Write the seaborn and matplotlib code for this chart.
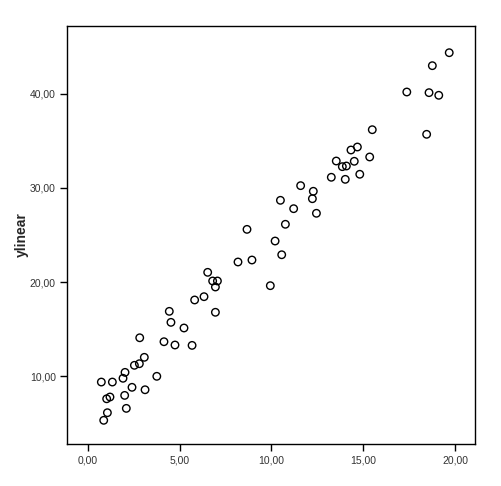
import pandas as pd
import seaborn as sns
import matplotlib.pyplot as plt
from matplotlib.ticker import FuncFormatter

# values
x = [19.68, 18.76, 17.37, 18.58, 19.11, 15.49, 18.45, 14.68, 14.33, 15.35,
     13.53, 14.51, 13.86, 14.08, 14.81, 13.26, 14.02, 11.59, 12.28, 12.23,
     10.49, 11.21, 12.45, 10.76, 8.67, 10.20, 10.56, 8.18, 8.94, 6.53,
     6.80, 7.06, 6.95, 9.94, 6.33, 5.82, 4.44, 6.95, 4.53, 5.24,
     2.83, 4.15, 4.75, 5.68, 3.08, 2.54, 2.81, 2.03, 1.92, 0.74,
     1.34, 3.76, 2.41, 3.12, 1.03, 1.21, 2.01, 2.10, 1.07, 0.87]
ylinear = [44.39, 43.01, 40.21, 40.14, 39.86, 36.20, 35.71, 34.36, 34.04, 33.30,
           32.87, 32.84, 32.27, 32.34, 31.46, 31.14, 30.92, 30.25, 29.65, 28.86,
           28.69, 27.80, 27.31, 26.14, 25.60, 24.36, 22.90, 22.13, 22.34, 21.03,
           20.11, 20.11, 19.47, 19.61, 18.44, 18.09, 16.88, 16.78, 15.71, 15.11,
           14.07, 13.65, 13.30, 13.26, 11.99, 11.14, 11.31, 10.39, 9.76, 9.36,
           9.36, 9.97, 8.80, 8.54, 7.58, 7.77, 7.94, 6.56, 6.10, 5.29]
x_ticks = [0, 5, 10, 15, 20]
y_ticks = [10, 20, 30, 40]

df = pd.DataFrame({"x": x, "ylinear": ylinear})

sns.set_style("white")
plt.rcParams['font.family'] = ['Liberation Sans', 'DejaVu Sans']

fig = plt.figure(figsize=(5.01, 4.86), dpi=100)
ax = fig.add_axes([0.1337, 0.0864, 0.8143, 0.8601])

sns.scatterplot(data=df, x="x", y="ylinear", ax=ax, s=29,
                facecolor="none", edgecolor="black", linewidth=1.0)

ax.set_xlim(-1.13, 21.08)
ax.set_ylim(2.77, 47.23)
ax.set_xticks(x_ticks)
ax.set_yticks(y_ticks)
fmt = FuncFormatter(lambda v, p: f"{v:.2f}".replace(".", ","))
ax.xaxis.set_major_formatter(fmt)
ax.yaxis.set_major_formatter(fmt)
ax.tick_params(direction="out", length=5, width=1, color="black",
               labelsize=7.5, labelcolor="#333333", pad=3,
               bottom=True, left=True)
ax.set_xlabel("")
ax.set_ylabel("ylinear", fontsize=10, fontweight="bold", labelpad=1)
for sp in ax.spines.values():
    sp.set_color("black")
    sp.set_linewidth(1)

fig.savefig("out.png", dpi=100)
